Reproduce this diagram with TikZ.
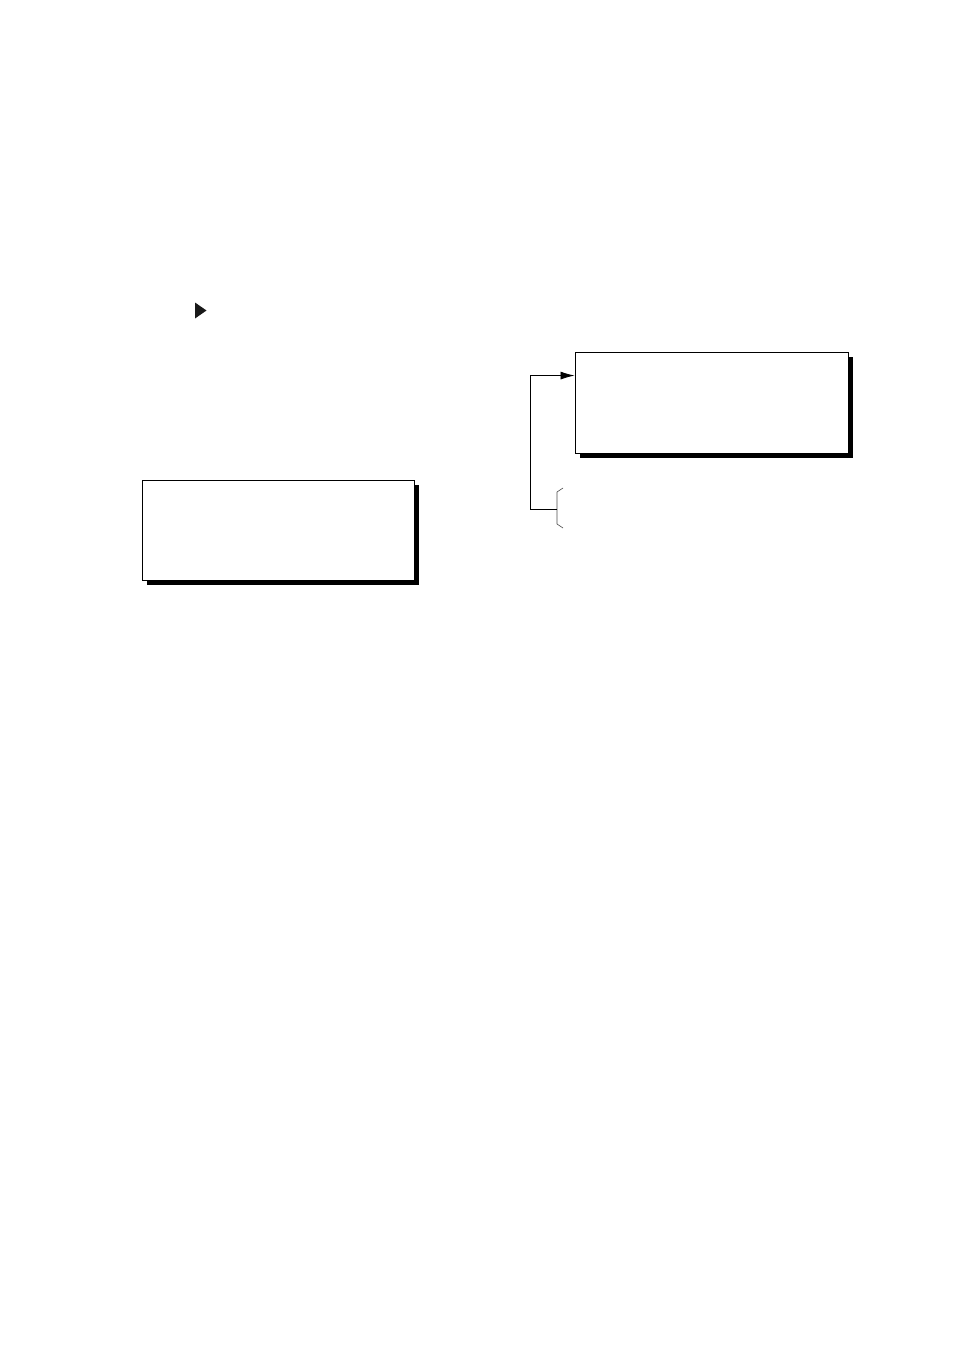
\documentclass[tikz,border=0pt]{standalone}
\usetikzlibrary{shadows,arrows.meta,calc}
\begin{document}
\begin{tikzpicture}[x=1pt,y=-1pt,
  box/.style={draw, fill=white, line width=0.9pt, inner sep=0pt,
    minimum width=272pt, minimum height=100pt,
    general shadow={fill=black, shadow xshift=4.5pt, shadow yshift=-4.5pt}},
  conn/.style={line width=0.8pt},
  bracestyle/.style={line width=0.6pt, draw=black!70}]
\useasboundingbox (0,0) rectangle (954,1349);
% marker triangle
\fill[black!90] (195,302.5) -- (206.5,310.5) -- (195,318.5) -- cycle;
% boxes
\node[box] (boxA) at (278,530) {};
\node[box, minimum width=273pt, minimum height=101pt] (boxB) at (711.5,402.5) {};
% brace
\coordinate (br) at (557,509);
\draw[bracestyle] (563,488) -- (557,492) -- (557,524) -- (563,528);
% connector
\coordinate (j) at (530,509);
\coordinate (tgt) at ($(boxB.north west)+(0,24)$);
\draw[conn] (br) -- (j);
\draw[conn, -{Latex[length=14pt,width=8pt]}] (j) |- (tgt);
\end{tikzpicture}
\end{document}
